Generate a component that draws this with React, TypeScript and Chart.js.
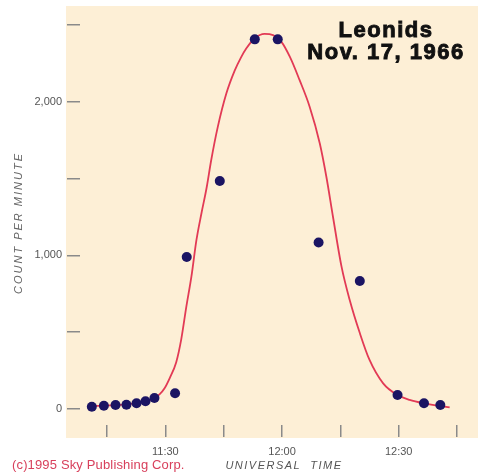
import { useEffect, useRef } from 'react';
import { Chart, registerables } from 'chart.js';

Chart.register(...registerables);

// Observed counts (minutes after 11:00 UT, meteors per minute)
const obsMinutes = [11.1, 14.2, 17.2, 20.0, 22.6, 24.9, 27.2, 32.5, 35.5, 44.0, 53.0, 58.9, 69.4, 80.0, 89.7, 96.5, 100.7];
const obsCounts = [15, 21, 26, 28, 37, 50, 72, 102, 989, 1483, 2405, 2405, 1083, 833, 91, 37, 26];

// Smooth fitted curve
const curveMinutes = [11.8, 19.5, 24.9, 27.0, 28.5, 29.8, 31.1, 32.8, 34.1, 35.4, 36.7, 38.0, 39.3, 40.6, 41.8, 43.5, 45.7, 47.8, 49.4, 50.8, 53.0, 55.5, 57.7, 59.8, 62.0, 64.5, 67.1, 69.7, 71.4, 73.1, 75.3, 77.4, 80.0, 82.5, 86.0, 89.7, 92.8, 96.5, 103.1];
const curveCounts = [20, 29, 49, 70, 95, 135, 200, 305, 455, 666, 861, 1100, 1275, 1438, 1620, 1837, 2054, 2200, 2285, 2345, 2412, 2440, 2433, 2390, 2292, 2141, 1967, 1729, 1511, 1251, 926, 709, 494, 319, 167, 91, 59, 37, 11];

const xTickValues = [15, 30, 45, 60, 75, 90, 105];
const xLabelValues = [30, 60, 90];
const xLabelTexts = ['11:30', '12:00', '12:30'];
const yTickValues = [0, 500, 1000, 1500, 2000, 2500];
const yLabelValues = [0, 1000, 2000];
const yLabelTexts = ['0', '1,000', '2,000'];

const titleLines = ['Leonids', 'Nov. 17, 1966'];
const yTitle = 'COUNT PER MINUTE';
const xTitle = 'UNIVERSAL  TIME';
const credit = '(c)1995 Sky Publishing Corp.';

const FONT = '"Liberation Sans", Arial, Helvetica, sans-serif';

const bgPlugin = {
  id: 'peachBg',
  beforeDraw(chart: any) {
    const { ctx, chartArea } = chart;
    ctx.save();
    ctx.fillStyle = '#fdefd6';
    ctx.fillRect(chartArea.left - 14, chartArea.top, chart.width - (chartArea.left - 14), chartArea.bottom - chartArea.top + 13);
    ctx.restore();
  },
};

const textPlugin = {
  id: 'texts',
  afterDraw(chart: any) {
    const ctx = chart.ctx as any;
    ctx.save();
    // Title
    ctx.fillStyle = '#111';
    ctx.strokeStyle = '#111';
    ctx.lineWidth = 0.9;
    ctx.font = `bold 22px ${FONT}`;
    ctx.textAlign = 'center';
    ctx.textBaseline = 'alphabetic';
    ctx.letterSpacing = '1.5px';
    ctx.fillText(titleLines[0], 386, 37);
    ctx.strokeText(titleLines[0], 386, 37);
    ctx.fillText(titleLines[1], 386, 58.5);
    ctx.strokeText(titleLines[1], 386, 58.5);

    // Y axis title
    ctx.fillStyle = '#666';
    ctx.font = `italic 11px ${FONT}`;
    ctx.letterSpacing = '2px';
    ctx.save();
    ctx.translate(22, 223);
    ctx.rotate(-Math.PI / 2);
    ctx.textAlign = 'center';
    ctx.fillText(yTitle, 0, 0);
    ctx.restore();

    // X axis title
    ctx.fillStyle = '#555';
    ctx.font = `italic 11px ${FONT}`;
    ctx.letterSpacing = '1.5px';
    ctx.textAlign = 'center';
    ctx.fillText(xTitle, 284, 469);

    // Credit
    ctx.fillStyle = '#d8405c';
    ctx.font = `13px ${FONT}`;
    ctx.letterSpacing = '0.15px';
    ctx.textAlign = 'left';
    ctx.fillText(credit, 12, 469);
    ctx.restore();
  },
};

export default function App() {
  const ref = useRef<HTMLCanvasElement | null>(null);

  useEffect(() => {
    if (!ref.current) return;
    const chart = new Chart(ref.current, {
      type: 'scatter',
      data: {
        datasets: [
          {
            label: 'Observed',
            data: obsMinutes.map((m, i) => ({ x: m, y: obsCounts[i] })),
            pointRadius: 5,
            pointBackgroundColor: '#1b1463',
            pointBorderColor: '#1b1463',
            pointBorderWidth: 0,
            showLine: false,
          },
          {
            label: 'Fit',
            data: curveMinutes.map((m, i) => ({ x: m, y: curveCounts[i] })),
            showLine: true,
            pointRadius: 0,
            borderColor: '#e23a55',
            borderWidth: 1.8,
            cubicInterpolationMode: 'monotone',
            fill: false,
          },
        ],
      },
      options: {
        animation: false,
        responsive: false,
        events: [],
        layout: { padding: { top: 6, right: 0, left: 0, bottom: 0 } },
        plugins: {
          legend: { display: false },
          tooltip: { enabled: false },
          title: { display: false },
        },
        scales: {
          x: {
            type: 'linear',
            min: 8.06,
            max: 109.1,
            afterBuildTicks: (s: any) => { s.ticks = xTickValues.map((v) => ({ value: v })); },
            afterFit: (s: any) => { s.height = 49; s.paddingLeft = 0; s.paddingRight = 0; },
            border: { display: false },
            grid: { drawOnChartArea: false, drawTicks: true, tickLength: 12, color: '#8a8a8a', lineWidth: 1.5 },
            ticks: {
              autoSkip: false,
              maxRotation: 0,
              padding: 8,
              color: '#555',
              font: { family: FONT, size: 11 },
              callback: (v: any) => {
                const idx = xLabelValues.indexOf(Number(v));
                return idx >= 0 ? xLabelTexts[idx] : '';
              },
            },
          },
          y: {
            type: 'linear',
            min: -104,
            max: 2622,
            afterBuildTicks: (s: any) => { s.ticks = yTickValues.map((v) => ({ value: v })); },
            afterFit: (s: any) => { s.width = 80; s.paddingTop = 0; s.paddingBottom = 0; },
            border: { display: false },
            grid: { drawOnChartArea: false, drawTicks: true, tickLength: 13, color: '#8a8a8a', lineWidth: 1.5 },
            ticks: {
              autoSkip: false,
              padding: 5,
              color: '#555',
              font: { family: FONT, size: 11 },
              callback: (v: any) => {
                const idx = yLabelValues.indexOf(Number(v));
                return idx >= 0 ? yLabelTexts[idx] : '';
              },
            },
          },
        },
      },
      plugins: [bgPlugin, textPlugin],
    } as any);
    return () => chart.destroy();
  }, []);

  return (
    <div style={{ position: 'fixed', left: 0, top: 0, width: 478, height: 474, background: '#fff' }}>
      <canvas ref={ref} width={478} height={474} style={{ display: 'block', width: 478, height: 474 }} />
    </div>
  );
}
